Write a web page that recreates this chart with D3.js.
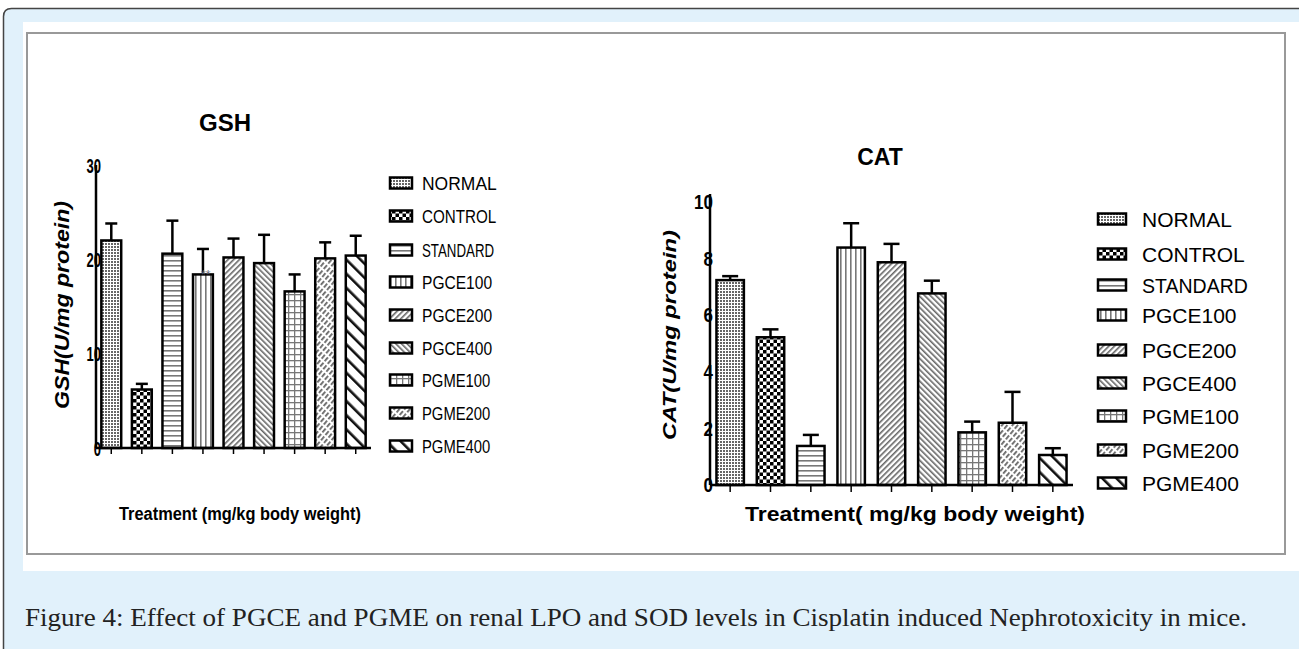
<!DOCTYPE html>
<html>
<head>
<meta charset="utf-8">
<script src="https://cdn.jsdelivr.net/npm/d3@7"></script>
<style>
  html, body { margin: 0; padding: 0; background: #fff; }
  svg { display: block; }
</style>
</head>
<body>
<svg id="fig" width="1299" height="649"></svg>
<script>
// groups shared by both panels
const groups = ["NORMAL", "CONTROL", "STANDARD", "PGCE100", "PGCE200", "PGCE400", "PGME100", "PGME200", "PGME400"];

// GSH (U/mg protein): mean and top of error bar
const gshMean = [22.0, 6.2, 20.6, 18.4, 20.2, 19.6, 16.6, 20.1, 20.4];
const gshErr  = [23.8, 6.8, 24.1, 21.1, 22.2, 22.6, 18.4, 21.8, 22.5];
const gshTicks = [0, 10, 20, 30];

// CAT (U/mg protein)
const catMean = [7.24, 5.22, 1.38, 8.39, 7.87, 6.77, 1.86, 2.20, 1.06];
const catErr  = [7.38, 5.50, 1.77, 9.25, 8.52, 7.22, 2.24, 3.29, 1.30];
const catTicks = [0, 2, 4, 6, 8, 10];

const caption = "Figure 4: Effect of PGCE and PGME on renal LPO and SOD levels in Cisplatin induced Nephrotoxicity in mice.";

const svg = d3.select("#fig");

// --- frame ---
svg.append("path")
   .attr("d", "M3.5,700 V16.5 Q3.5,8.5 11.5,8.5 H1340 V700 Z")
   .attr("fill", "#e1f1fb")
   .attr("stroke", "#444")
   .attr("stroke-width", 1.5);
svg.append("rect").attr("x", 23).attr("y", 22).attr("width", 1280).attr("height", 549).attr("fill", "#fff");
svg.append("rect").attr("x", 27).attr("y", 33).attr("width", 1258).attr("height", 521)
   .attr("fill", "#fff").attr("stroke", "#999").attr("stroke-width", 2);

svg.append("text")
   .attr("x", 25).attr("y", 626)
   .attr("font-family", "Liberation Serif, serif")
   .attr("font-size", 25)
   .attr("fill", "#222")
   .attr("textLength", 1222)
   .attr("lengthAdjust", "spacingAndGlyphs")
   .text(caption);

// --- fill patterns ---
const defs = svg.append("defs");
function pat(id, w, h, rot) {
  const p = defs.append("pattern").attr("id", id)
    .attr("patternUnits", "userSpaceOnUse").attr("width", w).attr("height", h);
  if (rot) p.attr("patternTransform", `rotate(${rot})`);
  p.append("rect").attr("width", w).attr("height", h).attr("fill", "#fff");
  return p;
}
let p;
p = pat("p-NORMAL", 3, 3);
p.append("rect").attr("width", 2).attr("height", 2).attr("fill", "#666");
p = pat("p-CONTROL", 7, 7);
p.append("rect").attr("width", 3.5).attr("height", 3.5).attr("fill", "#000");
p.append("rect").attr("x", 3.5).attr("y", 3.5).attr("width", 3.5).attr("height", 3.5).attr("fill", "#000");
p = pat("p-STANDARD", 5, 5);
p.append("rect").attr("y", 0).attr("width", 5).attr("height", 1.6).attr("fill", "#777");
p = pat("p-PGCE100", 5, 5);
p.append("rect").attr("x", 0).attr("width", 1.6).attr("height", 5).attr("fill", "#777");
p = pat("p-PGCE200", 4, 4, 45);
p.append("rect").attr("width", 1.6).attr("height", 4).attr("fill", "#666");
p = pat("p-PGCE400", 4, 4, -45);
p.append("rect").attr("width", 1.6).attr("height", 4).attr("fill", "#666");
p = pat("p-PGME100", 6, 6);
p.append("rect").attr("width", 6).attr("height", 1.3).attr("fill", "#777");
p.append("rect").attr("width", 1.3).attr("height", 6).attr("fill", "#777");
p = pat("p-PGME200", 4, 7, 40);
p.append("rect").attr("width", 1.8).attr("height", 5).attr("fill", "#666");
p = pat("p-PGME400", 10, 10, -45);
p.append("rect").attr("width", 2.6).attr("height", 10).attr("fill", "#111");

// text helper; sx squeezes glyphs horizontally (the GSH panel is narrow)
function addText(g, x, y, str, opts) {
  const t = g.append("g").attr("transform", `translate(${x},${y}) rotate(${opts.rotate || 0}) scale(${opts.sx || 1},1)`)
    .append("text")
    .attr("text-anchor", opts.anchor || "start")
    .attr("font-family", "Liberation Sans, Arial, sans-serif")
    .attr("font-size", opts.size)
    .attr("font-weight", opts.weight || "normal")
    .attr("font-style", opts.style || "normal")
    .attr("fill", opts.fill || "#000")
    .text(str);
  if (opts.len) t.attr("textLength", opts.len).attr("lengthAdjust", "spacingAndGlyphs");
  return t;
}

function drawPanel(cfg) {
  const g = svg.append("g");
  const x = d3.scaleBand().domain(groups).range(cfg.xRange).paddingInner(cfg.pad).paddingOuter(cfg.pad / 2);
  const y = d3.scaleLinear().domain([0, cfg.yMax]).range(cfg.yRange);
  const data = groups.map((k, i) => ({ k, m: cfg.mean[i], e: cfg.err[i] }));

  // error bars (behind bars)
  g.selectAll("line.err").data(data).join("line")
    .attr("x1", d => x(d.k) + x.bandwidth() / 2).attr("x2", d => x(d.k) + x.bandwidth() / 2)
    .attr("y1", d => y(d.m)).attr("y2", d => y(d.e))
    .attr("stroke", "#000").attr("stroke-width", 2.5);
  g.selectAll("line.cap").data(data).join("line")
    .attr("x1", d => x(d.k) + x.bandwidth() / 2 - cfg.cap).attr("x2", d => x(d.k) + x.bandwidth() / 2 + cfg.cap)
    .attr("y1", d => y(d.e)).attr("y2", d => y(d.e))
    .attr("stroke", "#000").attr("stroke-width", 2.5);

  // bars
  g.selectAll("rect.bar").data(data).join("rect")
    .attr("x", d => x(d.k)).attr("width", x.bandwidth())
    .attr("y", d => y(d.m)).attr("height", d => y(0) - y(d.m))
    .attr("fill", d => `url(#p-${d.k})`)
    .attr("stroke", "#000").attr("stroke-width", 2.5);

  // axes
  const ax = cfg.xRange[0];
  const xa = g.append("g").attr("transform", `translate(0,${y(0)})`)
    .call(d3.axisBottom(x).tickSize(cfg.tick).tickFormat(""));
  xa.select(".domain").attr("d", `M${ax},0H${cfg.xRange[1]}`).attr("stroke-width", 2.5);
  xa.selectAll(".tick line").attr("stroke-width", 1.5);

  const ya = g.append("g").attr("transform", `translate(${ax},0)`)
    .call(d3.axisLeft(y).tickValues(cfg.ticks).tickSize(0).tickFormat(""));
  ya.select(".domain").attr("d", `M0,${y(cfg.yMax) - cfg.overTop}V${y(0)}`).attr("stroke-width", 2.5);
  cfg.ticks.forEach(v => {
    addText(g, ax + cfg.tickDx, y(v) + cfg.tickSize * 0.36, String(v),
      { size: cfg.tickSize, weight: "bold", anchor: "end", sx: cfg.sx });
  });

  // titles
  addText(g, cfg.title[0], cfg.title[1], cfg.name, { size: cfg.titleSize, weight: "bold", anchor: "middle" });
  addText(g, cfg.xlab[0], cfg.xlab[1], cfg.xlabText, { size: cfg.xlabSize, weight: "bold", anchor: "middle", len: cfg.xlabLen });
  addText(g, cfg.ylab[0], cfg.ylab[1], cfg.ylabText, { size: cfg.ylabSize, weight: "bold", style: "italic", anchor: "middle", rotate: -90, len: cfg.ylabLen });

  // legend
  groups.forEach((k, i) => {
    const ly = cfg.legY[i];
    g.append("rect")
      .attr("x", cfg.legX).attr("y", ly - cfg.patch[1] / 2)
      .attr("width", cfg.patch[0]).attr("height", cfg.patch[1])
      .attr("fill", `url(#p-${k})`).attr("stroke", "#000").attr("stroke-width", 2.5);
    addText(g, cfg.legTx, ly + cfg.legSize * 0.36, k, { size: cfg.legSize, sx: cfg.legSx[i] });
  });
  return g;
}

drawPanel({
  name: "GSH", mean: gshMean, err: gshErr, ticks: gshTicks, yMax: 30,
  xRange: [96, 371], yRange: [448, 165], pad: 0.35, cap: 6, tick: 6, overTop: 0,
  tickDx: 5, tickSize: 21, sx: 0.62,
  title: [225, 131], titleSize: 24,
  xlab: [240, 520], xlabText: "Treatment (mg/kg body weight)", xlabSize: 18, xlabLen: 242,
  ylab: [69, 305], ylabText: "GSH(U/mg protein)", ylabSize: 20, ylabLen: 208,
  legX: 390, legTx: 422, legSize: 19, patch: [22, 11],
  legY: [183, 216, 250, 282, 315, 348, 380, 413, 446],
  legSx: [0.92, 0.8, 0.7, 0.82, 0.82, 0.82, 0.78, 0.78, 0.78]
});

drawPanel({
  name: "CAT", mean: catMean, err: catErr, ticks: catTicks, yMax: 10,
  xRange: [710, 1073], yRange: [485, 202], pad: 0.32, cap: 8, tick: 7, overTop: 8,
  tickDx: 3, tickSize: 20, sx: 0.85,
  title: [880, 165], titleSize: 23,
  xlab: [915, 521], xlabText: "Treatment( mg/kg body weight)", xlabSize: 21, xlabLen: 340,
  ylab: [676, 335], ylabText: "CAT(U/mg protein)", ylabSize: 19, ylabLen: 210,
  legX: 1098, legTx: 1142, legSize: 21, patch: [28, 11],
  legY: [219, 254, 285, 315, 350, 383, 416, 450, 483],
  legSx: [1, 1, 0.93, 1, 1, 1, 1, 1, 1]
});

// significance marks on PGCE100 (GSH)
svg.append("text").attr("x", 201).attr("y", 279)
   .attr("font-family", "Liberation Sans, sans-serif").attr("font-size", 12)
   .attr("fill", "#667").text("**");
</script>
</body>
</html>
